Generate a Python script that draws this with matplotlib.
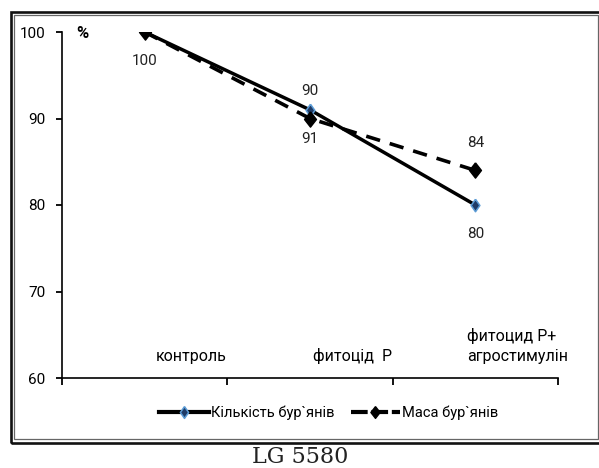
import matplotlib
matplotlib.use("Agg")
import matplotlib.pyplot as plt
from matplotlib.patches import Rectangle
from matplotlib.lines import Line2D

plt.rcParams['font.family'] = ['Liberation Sans Narrow', 'Roboto', 'DejaVu Sans']

# Data
categories = ["контроль", "фитоцід  Р", "фитоцид Р+\nагростимулін"]
kilkist = [100, 91, 80]      # Кількість бур`янів, %
masa = [100, 90, 84]         # Маса бур`янів, %
yticks = [60, 70, 80, 90, 100]
series_names = ["Кількість бур`янів", "Маса бур`янів"]
title = "LG 5580"

W, H = 599, 468
fig = plt.figure(figsize=(W / 100, H / 100), dpi=100)


def fx(px):
    return px / W


def fy(py):
    return 1 - py / H


# Diamond shapes for the two series
diamond_wide = [(0, 1), (0.78, 0), (0, -1), (-0.78, 0), (0, 1)]
diamond_thin = [(0, 1), (0.7, 0), (0, -1), (-0.7, 0), (0, 1)]
k_face, k_edge = "#1f3b66", "#5b9bd5"

# Plot area
ax = fig.add_axes([fx(62), fy(378), fx(558) - fx(62), fy(32) - fy(378)])
x = list(range(len(categories)))

ax.plot(x, masa, color="black", lw=2.6, dashes=(4, 2.8), zorder=3)
ax.plot(x, kilkist, color="black", lw=2.5, zorder=4)
ax.plot(x, kilkist, ls="none", marker=diamond_thin, ms=9, mfc=k_face,
        mec=k_edge, mew=1.1, zorder=5)
ax.plot(x, masa, ls="none", marker=diamond_wide, ms=11, mfc="black",
        mec="black", zorder=6)

ax.set_xlim(-0.5, len(categories) - 0.5)
ax.set_ylim(yticks[0], yticks[-1])
ax.set_yticks(yticks)
ax.set_yticklabels([str(v) for v in yticks], fontsize=11)
ax.tick_params(axis="y", direction="out", length=4, width=1.3, pad=8, color="black")

# Category boundaries as downward ticks; names drawn inside the plot area
ax.set_xticks([])
ax.set_xticks([i - 0.5 for i in range(len(categories) + 1)], minor=True)
ax.tick_params(axis="x", which="minor", direction="out", length=5, width=1.3, color="black")
ax.tick_params(axis="x", which="major", length=0)

for s in ["top", "right"]:
    ax.spines[s].set_visible(False)
for s in ["left", "bottom"]:
    ax.spines[s].set_linewidth(1.2)
    ax.spines[s].set_color("black")

cat_x = [0.069, 1.018, 1.950]
for cx, name in zip(cat_x, categories):
    ax.text(cx, 61.6, name, ha="left", va="bottom", fontsize=11.5,
            linespacing=1.45)

# Value labels: Кількість below its points, Маса above
for i, v in enumerate(kilkist):
    ax.annotate(str(v), (i, v), xytext=(0, -21), textcoords="offset points",
                ha="center", va="center", fontsize=11, color="#222222")
for i, v in enumerate(masa):
    if i == 0:
        continue
    ax.annotate(str(v), (i, v), xytext=(0, 20), textcoords="offset points",
                ha="center", va="center", fontsize=11, color="#222222")

fig.text(fx(82), fy(33), "%", ha="center", va="center", fontsize=12,
         fontweight="bold")

# Legend
h1 = Line2D([], [], color="black", lw=3, marker=diamond_thin, ms=8.5,
            mfc=k_face, mec=k_edge, mew=1.1)
h2 = Line2D([], [], color="black", lw=3, dashes=(4, 0.9), marker=diamond_wide,
            ms=8.5, mfc="black", mec="black")
fig.legend([h1, h2], series_names, loc="center", bbox_to_anchor=(fx(329), fy(413)),
           ncol=2, frameon=False, fontsize=10.5, handlelength=3.4,
           handletextpad=0.15, columnspacing=1.1)

# Chart frame
fig.add_artist(Rectangle((fx(10.5), fy(443)), fx(605) - fx(10.5), fy(11.5) - fy(443),
                         transform=fig.transFigure, fill=False, ec="#111111", lw=1.9))
fig.add_artist(Rectangle((fx(13.8), fy(438.5)), fx(598.2) - fx(13.8), fy(14.5) - fy(438.5),
                         transform=fig.transFigure, fill=False, ec="#666666", lw=0.9))

fig.text(fx(300), fy(457), title, ha="center", va="center", fontsize=16,
         family="DejaVu Serif", color="#222222")

fig.savefig("out.png", dpi=100)
